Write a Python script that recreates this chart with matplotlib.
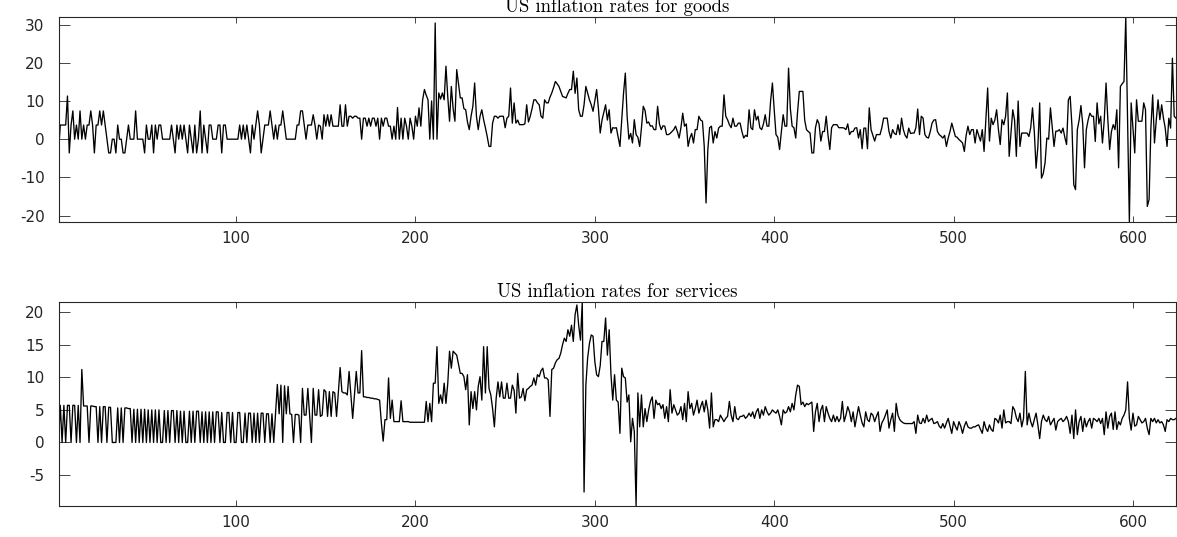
import numpy as np
import matplotlib
matplotlib.use("Agg")
import matplotlib.pyplot as plt

plt.rcParams['axes.unicode_minus'] = False

# ---------------- Data: US inflation rates for goods ----------------
goods_a = [-3.6, 3.7, 3.7, 3.7, 3.7, 11.3, -3.6, 3.7, 7.4, 0, 3.7, 0, 7.4, 0, 3.7, 0, 3.7, 3.7, 7.4, 3.7,
           -3.6, 3.7, 3.7, 7.4, 3.7, 7.4, 3.7, 0, -3.6, -3.6, 0, 0, -3.6, 3.7, 0, 0, -3.6, -3.6, 0, 3.7,
           0, 0, 0, 7.4, 0, 0, 0, 0, -3.6, 3.7, 0, 0, 3.7, -3.6, 3.7, 0, 3.7, 3.7, 0, 0,
           0, 0, 0, 3.7, 0, -3.6, 3.7, 0, 3.7, 0, 3.7, 0, -3.6, 3.7, 0, -3.6, 3.7, -3.6, 0, 7.4,
           -3.6, 3.7, 0, -3.6, 3.7, 3.7, 0, 0, 0, 3.7, 3.7, -3.6, 3.7, 3.7, 0, 0, 0, 0, 0, 0,
           0, 3.7, 0, 3.7, 0, 3.7, 0, -3.6, 3.7, 0, 3.7, 7.4, 3.7, -3.6, 0, 3.7, 3.7, 3.7, 7.4, 3.7,
           0, 3.7, 0, 3.7, 3.7, 7.4, 3.7, 0, 0, 0, 0, 0, 0, 3.7, 3.7, 7.4, 7.4, 3.7, 0, 3.7, 3.7]
goods_b = [3.7, 6.4, 3.7, 0, 3.7, 3.4, 0, 6.4, 3.4, 6.4, 3.4, 6.4, 3.4, 3.4, 3.4, 3.4, 9.0, 3.4, 3.4, 9.0,
           3.4, 6.0, 6.0, 5.5, 6.0, 6.0, 5.5, 5.5, 0, 5.5, 5.5, 3.4, 5.5, 3.4, 5.5, 5.5, 3.4, 5.5, 0, 5.5,
           3.4, 5.5, 5.5, 3.4, 3.4, 0, 3.4, 0, 8.3, 0, 5.5, 0, 5.5, 3.4, 0, 5.5, 3.4, 0, 6.0, 3.4,
           8.2, 3.4, 10.3, 13.0, 11.5, 10.3, 0, 10.0, 0, 30.4, 0, 12.1, 10.5, 12.1, 10.3, 19.1, 11.2, 4.7, 13.8, 8.0,
           4.7, 18.2, 14.5, 10.8, 10.8, 8.0, 7.7, 4.5, 2.5, 6.0, 8.6, 14.7, 6.0, 2.5, 6.0, 7.7, 5.1, 3.0, 0.7, -1.9,
           -1.9, 4.2, 6.0, 6.0, 5.5, 6.0, 6.0, 6.0, 3.0, 5.5, 6.0, 13.4, 4.2, 9.5, 4.2, 5.0, 3.8, 3.8, 3.8, 4.0,
           9.0, 4.5, 6.0, 8.0, 10.3, 10.3, 9.5, 9.0, 6.0, 5.5, 10.3, 9.5, 9.5, 11.0, 12.1, 13.5, 15.1, 14.5, 13.8, 12.5,
           11.2, 11.0, 10.8, 12.0, 13.0, 13.0, 17.8, 12.0, 16.0]
goods_c = [7.7, 6.0, 6.0, 9.0, 13.8, 12.0, 10.3, 9.0, 7.3, 10.0, 13.0, 8.0, 1.6, 5.0, 7.0, 9.0, 5.0, 7.7, 1.6, 3.0,
           2.9, 3.0, 0.5, -1.9, 5.0, 12.0, 17.3, 6.0, 0, 1.5, -1.0, 5.1, 1.2, 0.5, -1.9, 3.0, 8.6, 7.5, 4.2, 4.5,
           3.4, 3.5, 2.5, 2.5, 8.6, 4.0, 2.5, 3.5, 3.4, 1.2, 1.2, 1.5, 2.0, 2.5, 3.4, 2.0, 0.3, 3.0, 6.8, 3.4,
           4.0, -1.9, 0.3, 1.5, -1.0, 2.5, 2.5, 6.0, 5.0, 4.7, -1.9, -16.7, -2.7, 3.0, 3.4, -1.0, 2.0, 0.3, 2.9, 3.4,
           3.4, 11.6, 6.0, 5.1, 3.8, 3.0, 5.5, 3.4, 3.4, 4.2, 4.2, 2.0, 0.3, 1.0, 0.7, 7.7, 3.0, 2.5, 7.7, 5.0,
           6.0, 3.0, 2.5, 4.0, 6.4, 3.4, 3.4, 10.0, 14.7, 7.7, 1.2, 0.5, -2.7, 2.0, 6.4, 3.4, 3.4, 18.6, 8.0, 3.4,
           3.0, 0.3, 7.0, 12.5, 12.5, 12.5, 5.0, 2.5, 2.0, 1.6, -3.6, -3.6, 3.0, 5.1, 4.0, -0.5, 2.0, 2.0, 6.0, 1.0,
           -2.7, 3.0, 3.8, 3.8, 3.8, 3.0, 3.0, 3.0, 2.9, 2.5]
goods_d = [4.0, 1.2, 2.0, 2.0, 2.9, 3.0, 0.3, 2.5, -2.5, 2.9, 2.9, -2.5, 8.2, 2.5, 1.0, -0.5, 1.2, 1.2, 1.2, 3.0,
           5.5, 5.5, 5.5, 2.0, 0.3, 2.5, 1.5, 1.2, 3.8, 1.2, 5.5, 2.5, 1.0, 0.3, 2.9, 1.5, 1.6, 1.6, 3.0, 7.9,
           1.2, 6.0, 5.5, 1.2, 0.5, 0.3, 2.0, 4.2, 5.0, 5.1, 2.0, 1.2, 0.8, 0.3, 1.0, -1.9, 0.3, 2.0, 4.2, 2.5,
           0.7, 0.5, -0.1, -0.5, -1.0, -3.2, 1.0, 3.4, 1.2, 2.5, 2.5, -1.0, 2.5, 1.0, -0.5, 2.5, -3.2, 5.1, 13.4, -0.5,
           5.5, 3.8, 5.0, 7.7, 2.5, -1.4, 5.1, 3.8, 6.0, 12.1, -4.5, 1.6, 7.7, 5.0, -4.5, 10.0, -1.9, 1.6, 1.6, 1.6,
           1.6, 0.7, 3.0, 8.2, 2.0, -7.6, -1.9, 9.5, -10.2, -9.0, -6.2, 0.3, 0.0]
goods_e = [8.2, 3.0, -1.9, 2.1, 2.1, 2.5, 1.6, 2.9, 0.5, -1.4, 10.3, 11.2, 3.4, -11.9, -13.2, 2.5, 5.0, 8.8, 4.0, -7.5,
           2.5, 5.0, 6.8, 6.0, 6.0, -0.6, 9.5, 4.0, 6.0, -1.0, 5.0, 14.7, 5.1, -2.7, 2.0, 3.8, 2.5, 7.7, -7.5, 13.8,
           14.5, 15.1, 31.9, 5.0, -21.6, 9.5, 3.0, -3.6, 10.3, 4.7, 4.7, 4.7, 9.5, 7.7, -17.6, -15.8, 2.9, 11.6, -1.0, 5.0,
           10.3, 5.1, 9.0, 5.5, 2.9, -1.9, 5.5, 2.9, 21.2, 6.0, 5.5]

# ---------------- Data: US inflation rates for services ----------------
serv_a = [0, 5.7, 0, 5.7, 0, 5.7, 5.7, 0, 5.7, 5.7, 0, 5.7, 0, 11.2, 5.6, 5.6, 5.6, 0, 5.6, 5.6,
          5.5, 5.5, 0, 5.5, 0, 5.5, 5.5, 0, 5.4, 5.4, 0, 0, 0, 5.3, 0, 5.3, 0, 5.3, 5.3, 5.2,
          5.2, 0, 5.1, 0, 5.1, 0, 5.1, 0, 5.1, 0, 5.0, 0, 5.0, 0, 5.0, 0, 5.0, 0, 0, 4.9,
          0, 4.9, 0, 4.9, 4.9, 0, 4.9, 0, 4.8, 0, 4.8, 0, 0, 4.8, 0, 4.8, 0, 4.8, 4.8, 0,
          4.7, 0, 4.7, 0, 4.7, 0, 4.7, 0, 4.7, 4.7, 0, 4.6, 0, 0, 4.6, 4.6, 0, 4.6, 0, 0,
          4.6, 4.6, 0, 0, 4.5, 0, 4.5, 4.5, 0, 4.5, 0, 4.5, 0, 4.5, 4.5, 0, 4.4, 4.4, 0, 4.4, 0, 4.4]
serv_b = [8.9, 4.4, 8.8, 0, 8.7, 4.4, 8.6, 4.4, 4.3, 0, 4.3, 4.3, 4.2, 0, 8.3, 4.2, 4.2, 8.3, 4.2, 0,
          8.3, 4.2, 4.2, 8.1, 4.0, 4.2, 8.1, 7.8, 4.0, 7.8, 4.0, 7.8, 7.6, 4.0, 7.6, 11.5, 7.8, 7.6, 7.6, 7.3,
          10.9, 7.3, 3.7, 7.3, 10.9, 7.6, 7.6, 14.1, 7.0, 7.0, 6.9, 6.9, 6.8, 6.8, 6.7, 6.7, 6.6, 6.5, 3.0, 0.2,
          3.5, 3.5, 9.9, 3.7, 6.5, 3.2, 3.2, 3.2, 3.2, 6.4, 3.2, 3.2, 3.2, 3.2, 3.1, 3.1, 3.1, 3.1, 3.1, 3.1,
          3.1, 3.1, 3.1, 6.3, 3.2, 6.0, 3.2, 9.1, 9.1, 14.7, 6.0, 7.3, 6.0, 9.1, 6.0, 9.0, 14.0, 11.4, 14.0, 13.7,
          13.4, 12.0, 10.6, 10.6, 10.1, 8.1, 10.4, 2.7, 7.8, 5.2, 7.8, 5.0, 8.6, 10.1, 6.5, 14.7, 7.6, 14.7, 8.3, 7.3,
          5.2, 2.4, 6.8, 9.3, 7.0, 9.3, 6.8, 6.8, 9.1, 6.8, 6.8, 8.8, 8.0, 4.5, 10.6, 6.8, 7.0, 8.3, 6.4, 8.1,
          8.3, 8.6, 8.8, 9.9, 8.8, 10.4, 10.1, 11.0, 11.4, 9.9, 9.9, 9.6, 4.0, 11.2, 11.4, 12.2, 12.7, 12.9, 13.7, 15.0,
          16.0, 15.5, 17.3]
serv_c = [16.3, 18.0, 15.5, 19.6, 21.1, 18.0, 15.7, 21.6, -7.6, 8.8, 13.0, 15.2, 16.5, 16.3, 12.4, 10.4, 10.1, 11.8, 15.5, 15.5,
          19.1, 13.4, 17.3, 10.4, 6.5, 10.4, 6.5, 6.2, 1.4, 11.4, 10.1, 9.9, 6.2, 7.3, 0.1, 3.7, 1.7, -9.7, 7.6, 2.4,
          7.3, 2.4, 5.2, 3.2, 5.0, 6.3, 7.0, 3.7, 6.5, 5.8, 6.0, 5.2, 5.8, 3.7, 5.5, 3.2, 8.1, 4.5, 5.8, 5.0,
          4.2, 4.5, 5.5, 3.5, 6.0, 3.2, 7.8, 5.2, 6.0, 4.2, 5.2, 6.5, 4.5, 5.5, 6.3, 4.7, 6.5, 5.0, 2.2, 7.6,
          2.4, 3.5, 3.5, 3.2, 4.2, 3.7, 3.2, 3.7, 4.0, 6.3, 4.2, 3.2, 5.5, 3.7, 3.5, 4.0, 4.0, 4.2, 3.7, 4.0,
          4.5, 4.0, 4.7, 3.7, 4.7, 5.2, 3.7, 5.0, 4.2, 5.5, 4.7, 4.2, 4.5, 5.0, 4.7, 4.5, 5.0, 4.0, 2.7, 5.0,
          4.5, 4.7, 5.5, 4.7, 6.0, 5.0, 7.3, 8.8, 8.6, 5.8, 6.2, 5.5, 6.0, 5.8, 6.0, 6.2, 1.7, 4.7, 6.0, 3.2,
          5.0, 5.7, 3.2, 5.5, 4.5, 3.7, 3.2, 4.2, 3.2, 4.0, 3.2, 3.7, 6.3, 3.2, 4.2, 5.5]
serv_d = [4.7, 3.2, 4.7, 2.4, 4.0, 5.5, 4.2, 3.0, 2.4, 4.7, 3.5, 3.2, 4.5, 4.2, 3.2, 4.0, 4.7, 1.7, 3.0, 3.5,
          4.2, 5.0, 2.2, 3.5, 4.5, 1.7, 6.0, 4.2, 3.5, 3.2, 3.0, 2.9, 2.9, 2.9, 2.9, 2.9, 3.2, 1.4, 4.2, 3.0,
          2.9, 3.7, 3.0, 4.2, 3.2, 3.5, 3.7, 2.9, 3.0, 3.2, 2.5, 2.2, 2.9, 2.2, 3.0, 3.7, 2.5, 1.4, 3.2, 2.5,
          1.9, 3.2, 2.5, 1.4, 2.5, 3.2, 2.4, 2.2, 2.2, 2.4, 2.4, 2.6, 2.7, 2.0, 1.4, 3.2, 2.2, 1.7, 2.7, 2.0,
          1.7, 3.7, 3.5, 3.0, 4.2, 2.2, 5.0, 3.0, 3.2, 3.2, 2.9, 5.5, 5.0, 3.8, 3.2, 4.5, 2.4, 3.7, 10.9, 2.7,
          4.5, 3.2, 2.4, 3.5, 4.5, 2.7, 0.6, 3.2, 4.2, 3.5, 3.2, 4.0, 2.7, 3.2, 3.7, 1.9, 3.2, 3.5, 3.7, 3.2,
          3.5, 4.0, 3.2, 1.4, 4.2, 0.6, 5.0, 1.2, 3.2, 4.0, 1.7, 3.7, 2.4, 3.2, 3.7, 2.2, 3.7, 3.5, 3.2, 3.7,
          2.9, 3.7, 1.2, 4.7, 2.2, 4.0, 4.5, 2.0, 4.7, 2.0, 3.2, 2.7, 3.7, 4.2, 5.0, 9.3, 3.7, 1.9, 4.5, 2.5,
          2.7, 4.0, 3.5, 3.0, 3.2, 3.7, 2.2, 1.2, 3.7, 3.2, 3.7, 3.0, 3.5, 3.0, 3.2, 2.7, 1.7, 3.5, 3.2, 3.7,
          3.5, 3.5, 3.7]

goods = np.array(goods_a + goods_b + goods_c + goods_d + goods_e)
services = np.array(serv_a + serv_b + serv_c + serv_d)

titles = ["US inflation rates for goods", "US inflation rates for services"]
x_ticks = [100, 200, 300, 400, 500, 600]
y_ticks_goods = [-20, -10, 0, 10, 20, 30]
y_ticks_serv = [-5, 0, 5, 10, 15, 20]

W, H = 1177, 537
fig = plt.figure(figsize=(W / 100, H / 100), dpi=100)

frame_col = '#262626'
left, right = 58.5 / W, 1176 / W
ax1 = fig.add_axes([left, 1 - 221.7 / H, right - left, (221.7 - 17.3) / H])
ax2 = fig.add_axes([left, 1 - 505.7 / H, right - left, (505.7 - 301.7) / H])

for ax, data, title, yt in [(ax1, goods, titles[0], y_ticks_goods),
                            (ax2, services, titles[1], y_ticks_serv)]:
    x = np.arange(1, len(data) + 1)
    ax.plot(x, data, color='black', lw=0.95)
    ax.set_xlim(1, len(data))
    ax.set_ylim(data.min(), data.max())
    ax.set_xticks(x_ticks)
    ax.set_yticks(yt)
    for sp in ax.spines.values():
        sp.set_color(frame_col)
        sp.set_linewidth(0.8)
    ax.tick_params(axis='both', direction='in', top=True, right=True,
                   colors=frame_col, labelcolor='#262626', width=0.6,
                   labelsize=11)
    ax.tick_params(axis='y', length=7.9, pad=10)
    ax.tick_params(axis='x', length=4.0, pad=7)
    for lab in ax.get_xticklabels() + ax.get_yticklabels():
        lab.set_fontfamily('DejaVu Sans')
    ax.set_title(title, fontsize=13.5, family='cmr10', color='black', pad=3.5)

fig.savefig('out.png', dpi=100)
